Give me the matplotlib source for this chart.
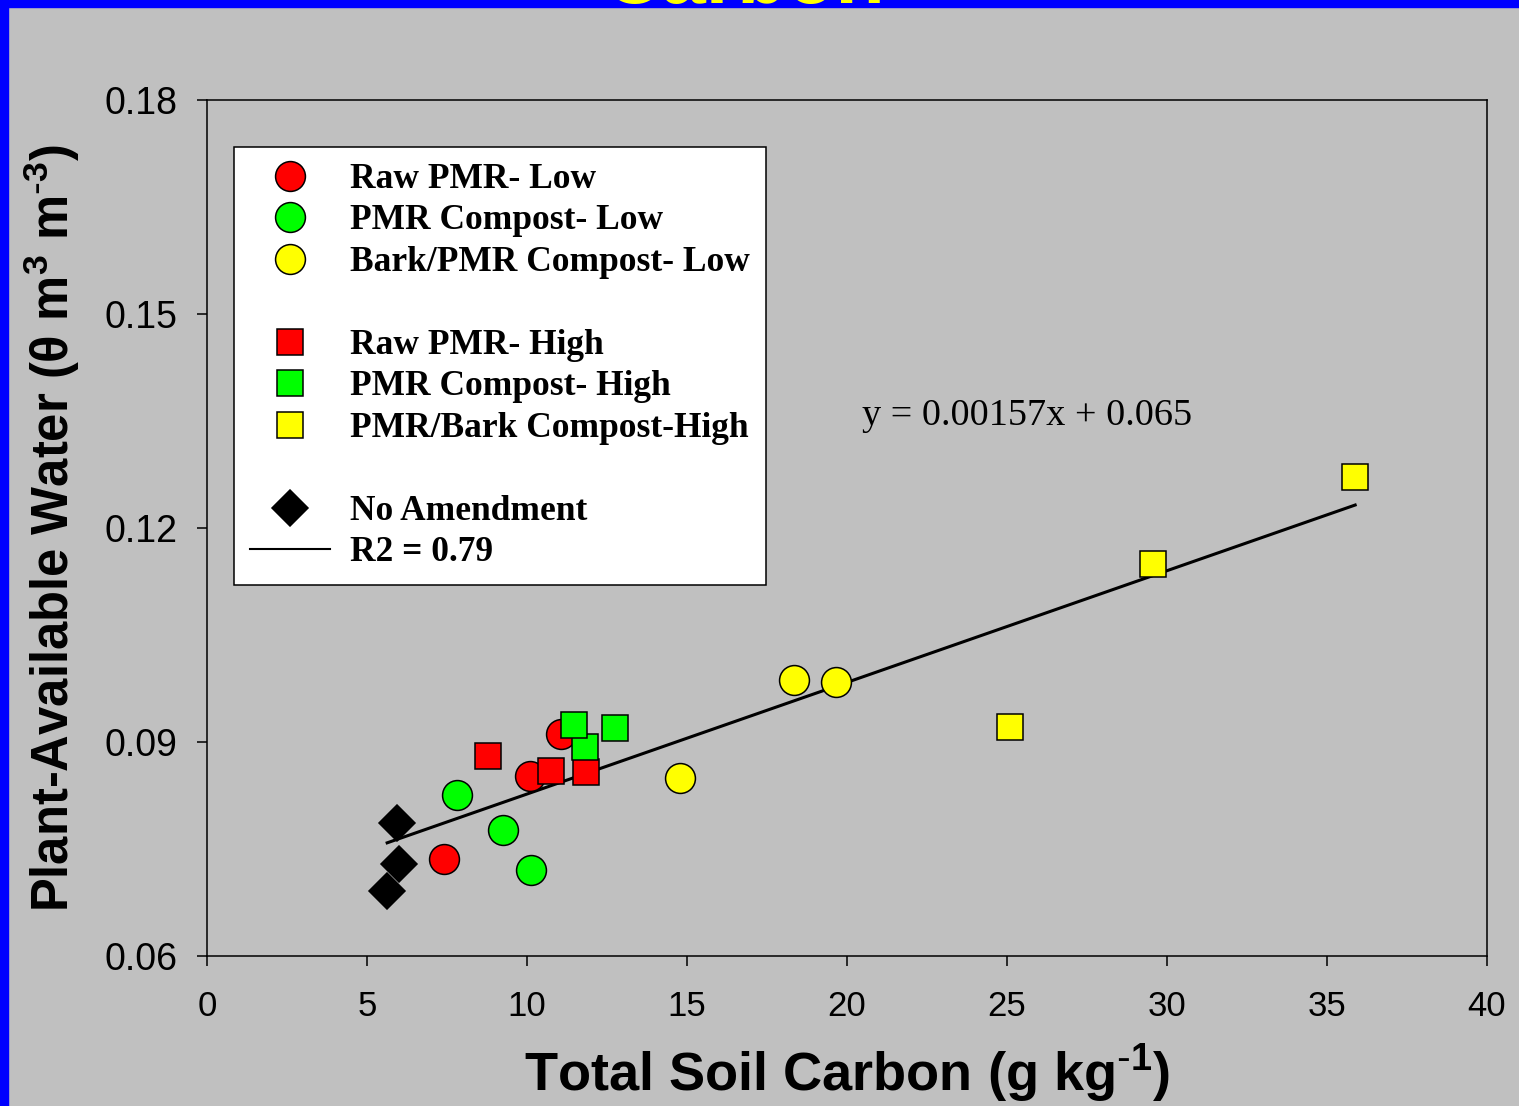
import numpy as np
import matplotlib
matplotlib.use("Agg")
import matplotlib.pyplot as plt
from matplotlib.lines import Line2D
from matplotlib.patches import Rectangle
from matplotlib import font_manager as fm

# ---------------- data ----------------
raw_low_x = [7.4, 10.1, 11.06]
raw_low_y = [0.0736, 0.0852, 0.0911]
comp_low_x = [7.81, 9.25, 10.13]
comp_low_y = [0.0826, 0.0777, 0.0721]
bark_low_x = [14.78, 18.34, 19.66]
bark_low_y = [0.0850, 0.0987, 0.0984]
raw_high_x = [8.78, 10.75, 11.84]
raw_high_y = [0.0880, 0.0859, 0.0858]
comp_high_x = [11.81, 11.47, 12.75]
comp_high_y = [0.0893, 0.0924, 0.0920]
bark_high_x = [25.09, 29.56, 35.88]
bark_high_y = [0.0921, 0.1150, 0.1272]
none_x = [5.94, 6.0, 5.63]
none_y = [0.0786, 0.0729, 0.0691]

x_ticks = [0, 5, 10, 15, 20, 25, 30, 35, 40]
y_ticks = [0.06, 0.09, 0.12, 0.15, 0.18]
y_tick_labels = ["0.06", "0.09", "0.12", "0.15", "0.18"]

labels = ["Raw PMR- Low", "PMR Compost- Low", "Bark/PMR Compost- Low",
          "Raw PMR- High", "PMR Compost- High", "PMR/Bark Compost-High",
          "No Amendment", "R2 = 0.79"]
equation = "y = 0.00157x + 0.065"
title = "Carbon"

# ---------------- fonts ----------------
names = {f.name for f in fm.fontManager.ttflist}
narrow = "Liberation Sans Narrow" if "Liberation Sans Narrow" in names else "Liberation Sans"
serif = "Liberation Serif"
sans = "Liberation Sans"
plt.rcParams["mathtext.default"] = "regular"

BG = "#c0c0c0"
fig = plt.figure(figsize=(15.19, 11.06), dpi=100, facecolor=BG)
ax = fig.add_axes([207/1519, 150/1106, 1280/1519, 856/1106])
ax.set_facecolor(BG)

# blue frame pieces
fig.patches.append(Rectangle((0, 0), 8/1519, 1, transform=fig.transFigure, color="#0000ff", zorder=5))
fig.patches.append(Rectangle((0, 1 - 7/1106), 1, 7/1106, transform=fig.transFigure, color="#0000ff", zorder=5))
fig.text(0.49, 1 - 3/1106, title, color="#ffff00", fontsize=58, fontweight="bold",
         family=sans, ha="center", va="baseline", zorder=6)

# regression line from data
all_x = np.array(raw_low_x + comp_low_x + bark_low_x + raw_high_x + comp_high_x + bark_high_x + none_x)
all_y = np.array(raw_low_y + comp_low_y + bark_low_y + raw_high_y + comp_high_y + bark_high_y + none_y)
slope, intercept = np.polyfit(all_x, all_y, 1)
xl = np.array([all_x.min(), all_x.max()])
ax.plot(xl, slope * xl + intercept, color="black", lw=2.2, zorder=2)

ms_c = 21.5
ms_s = 19
ms_d = 18.5
mew = 1.1
kw = dict(linestyle="none", markeredgecolor="black", markeredgewidth=mew, zorder=3)
ax.plot(raw_low_x, raw_low_y, marker="o", ms=ms_c, markerfacecolor="#ff0000", **kw)
ax.plot(comp_low_x, comp_low_y, marker="o", ms=ms_c, markerfacecolor="#00ff00", **kw)
ax.plot(bark_low_x, bark_low_y, marker="o", ms=ms_c, markerfacecolor="#ffff00", **kw)
ax.plot(raw_high_x, raw_high_y, marker="s", ms=ms_s, markerfacecolor="#ff0000", **kw)
ax.plot(comp_high_x, comp_high_y, marker="s", ms=ms_s, markerfacecolor="#00ff00", **kw)
ax.plot(bark_high_x, bark_high_y, marker="s", ms=ms_s, markerfacecolor="#ffff00", **kw)
ax.plot(none_x, none_y, marker="D", ms=ms_d, markerfacecolor="black", **kw)

ax.set_xlim(0, 40)
ax.set_ylim(0.06, 0.18)
ax.set_xticks(x_ticks)
ax.set_yticks(y_ticks)
ax.set_yticklabels(y_tick_labels)
ax.tick_params(direction="out", length=7.5, width=1.1, color="black", top=False, right=False)
ax.tick_params(axis="x", labelsize=25, pad=17)
ax.tick_params(axis="y", labelsize=27, pad=14)
for lab in ax.get_xticklabels():
    lab.set_family(narrow)
for lab in ax.get_yticklabels():
    lab.set_family(sans)
for sp in ax.spines.values():
    sp.set_linewidth(1.1)
    sp.set_color("black")

ax.set_xlabel(r"Total Soil Carbon (g kg$^{\text{-}1}$)", fontsize=39, fontweight="bold", family=narrow, labelpad=14)
ax.set_ylabel("Plant-Available Water (\u03b8 m$^{3}$ m$^{\\text{-}3}$)", fontsize=36.5, fontweight="bold", family=narrow, labelpad=16)

ax.text(20.47, 0.1358, equation, fontsize=27.5, family=serif, ha="left", va="center")

# legend
blank = Line2D([], [], linestyle="none", marker=None)
hk = dict(linestyle="none", markeredgecolor="black", markeredgewidth=mew)
handles = [
    Line2D([], [], marker="o", ms=ms_c, markerfacecolor="#ff0000", **hk),
    Line2D([], [], marker="o", ms=ms_c, markerfacecolor="#00ff00", **hk),
    Line2D([], [], marker="o", ms=ms_c, markerfacecolor="#ffff00", **hk),
    blank,
    Line2D([], [], marker="s", ms=ms_s, markerfacecolor="#ff0000", **hk),
    Line2D([], [], marker="s", ms=ms_s, markerfacecolor="#00ff00", **hk),
    Line2D([], [], marker="s", ms=ms_s, markerfacecolor="#ffff00", **hk),
    blank,
    Line2D([], [], marker="D", ms=ms_d, markerfacecolor="black", **hk),
    Line2D([], [], color="black", lw=1.5),
]
leg_labels = labels[:3] + [" "] + labels[3:6] + [" "] + labels[6:]
leg = ax.legend(handles, leg_labels, loc="upper left", bbox_to_anchor=(27/1280, 809/856),
                borderaxespad=0, frameon=True, fancybox=False, framealpha=1,
                edgecolor="black", facecolor="white", handlelength=2.26, handletextpad=0.56,
                borderpad=0.45, labelspacing=0.24,
                prop=dict(family=serif, weight="bold", size=25.5))
leg.get_frame().set_linewidth(1.1)

fig.savefig("out.png", dpi=100, facecolor=BG)
